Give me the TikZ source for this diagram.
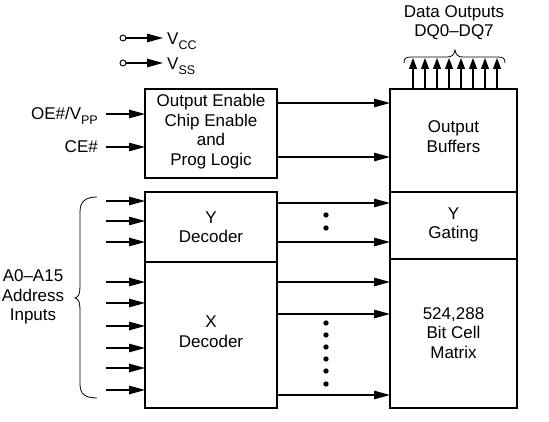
\documentclass[tikz,border=0pt]{standalone}
\usepackage{fontspec}
\setmainfont{Liberation Sans}
\usetikzlibrary{arrows.meta,calc}
\newcommand{\sbs}[1]{\raisebox{-0.28em}{\fontsize{12.5}{12.5}\selectfont #1}}
\begin{document}
\begin{tikzpicture}[x=1pt,y=-1pt,
  lbl/.style={font=\fontsize{17}{19.5}\selectfont, align=center, inner sep=0pt},
  arr/.style={line width=1.1pt, -{Triangle[length=16pt,width=8.5pt]}},
  arrsmall/.style={line width=1.1pt, -{Triangle[length=11pt,width=8pt]}},
  box/.style={draw=none, inner sep=0pt, outer sep=0pt},
  outline/.style={line width=2.5pt},
  divider/.style={line width=1.1pt},
  dotmark/.style={fill=black}]
\useasboundingbox (0,0) rectangle (549,422);

% boxes
\node[box, draw, outline, minimum width=132pt, minimum height=89pt] (logic) at (211,133.5) {};
\node[box, minimum width=132pt, minimum height=70pt] (ydec) at (211,227) {};
\node[box, minimum width=132pt, minimum height=146pt] (xdec) at (211,335) {};
\node[box, minimum width=127pt, minimum height=103pt] (obuf) at (453.5,140.5) {};
\node[box, minimum width=127pt, minimum height=67pt] (ygate) at (453.5,225.5) {};
\node[box, minimum width=127pt, minimum height=149pt] (matrix) at (453.5,333.5) {};

\draw[outline] (ydec.north west) rectangle (xdec.south east);
\draw[divider] (ydec.south west) -- (ydec.south east);
\draw[outline] (obuf.north west) rectangle (matrix.south east);
\draw[divider] (obuf.south west) -- (obuf.south east);
\draw[divider] (ygate.south west) -- (ygate.south east);

% box texts
\node[lbl] (logict) at (211,131.5) {Output Enable\\Chip Enable\\and\\Prog Logic};
\node[lbl] (ydect) at (211,227) {Y\\Decoder};
\node[lbl] (xdect) at (211,331.5) {X\\Decoder};
\node[lbl] (obuft) at (453.5,136.5) {Output\\Buffers};
\node[lbl] (ygatet) at (453.5,225) {Y\\Gating};
\node[lbl] (matrixt) at (453.5,333) {524,288\\Bit Cell\\Matrix};

% power
\node[circle, draw, line width=0.9pt, minimum size=6pt, inner sep=0pt] (vccc) at (123,38) {};
\coordinate (vcce) at (163,38);
\draw[arr] (vccc) -- (vcce);
\node[lbl, anchor=base west] (vcct) at (167,45) {V\sbs{CC}};
\node[circle, draw, line width=0.9pt, minimum size=6pt, inner sep=0pt] (vssc) at (123,63) {};
\coordinate (vsse) at (163,63);
\draw[arr] (vssc) -- (vsse);
\node[lbl, anchor=base west] (vsst) at (167,70) {V\sbs{SS}};

% control inputs
\coordinate (inL) at (106,0);
\node[lbl, anchor=base east] (oet) at (98,120) {OE\#/V\sbs{PP}};
\node[lbl, anchor=base east] (cet) at (98,153) {CE\#};
\draw[arr] (inL |- 0,114) -- (logic.west |- 0,114);
\draw[arr] (inL |- 0,147) -- (logic.west |- 0,147);

% address inputs
\foreach \yy in {201,221,242} \draw[arr] (inL |- 0,\yy) -- (ydec.west |- 0,\yy);
\foreach \yy in {282,303,326,348,368,390} \draw[arr] (inL |- 0,\yy) -- (xdec.west |- 0,\yy);
\node[lbl] (addr) at (33,297) {A0–A15\\Address\\Inputs};
\draw[line width=0.8pt] (97,197) .. controls (85,197) and (80,202) .. (80,212) -- (80,286)
  .. controls (80,293) and (79,297) .. (75,298) .. controls (79,299) and (80,303) .. (80,310)
  -- (80,384) .. controls (80,394) and (85,398) .. (97,398);

% internal connections
\draw[arr] (logic.east |- 0,103) -- (obuf.west |- 0,103);
\draw[arr] (logic.east |- 0,157) -- (obuf.west |- 0,157);
\draw[arr] (ydec.east |- 0,203) -- (ygate.west |- 0,203);
\draw[arr] (ydec.east |- 0,242) -- (ygate.west |- 0,242);
\draw[arr] (xdec.east |- 0,282) -- (matrix.west |- 0,282);
\draw[arr] (xdec.east |- 0,314) -- (matrix.west |- 0,314);
\draw[arr] (xdec.east |- 0,395) -- (matrix.west |- 0,395);

% dots
\foreach \yy in {215,228} \fill[dotmark] (326,\yy) circle (2.7);
\foreach \yy in {323,335,347,359,371,384} \fill[dotmark] (326,\yy) circle (2.7);

% data outputs
\foreach \k in {0,...,7} {
  \coordinate (dq\k) at (413+12*\k,58);
  \draw[arrsmall] (obuf.north -| dq\k) -- (dq\k);
}
\draw[line width=0.8pt] (404,63) .. controls (404,58) and (406,57) .. (412,57) -- (447,57)
  .. controls (452,57) and (454,55) .. (455,50) .. controls (456,55) and (458,57) .. (463,57)
  -- (497,57) .. controls (503,57) and (505,58) .. (505,63);
\node[lbl] (dqt) at (454,22.5) {Data Outputs\\DQ0–DQ7};
\end{tikzpicture}
\end{document}
